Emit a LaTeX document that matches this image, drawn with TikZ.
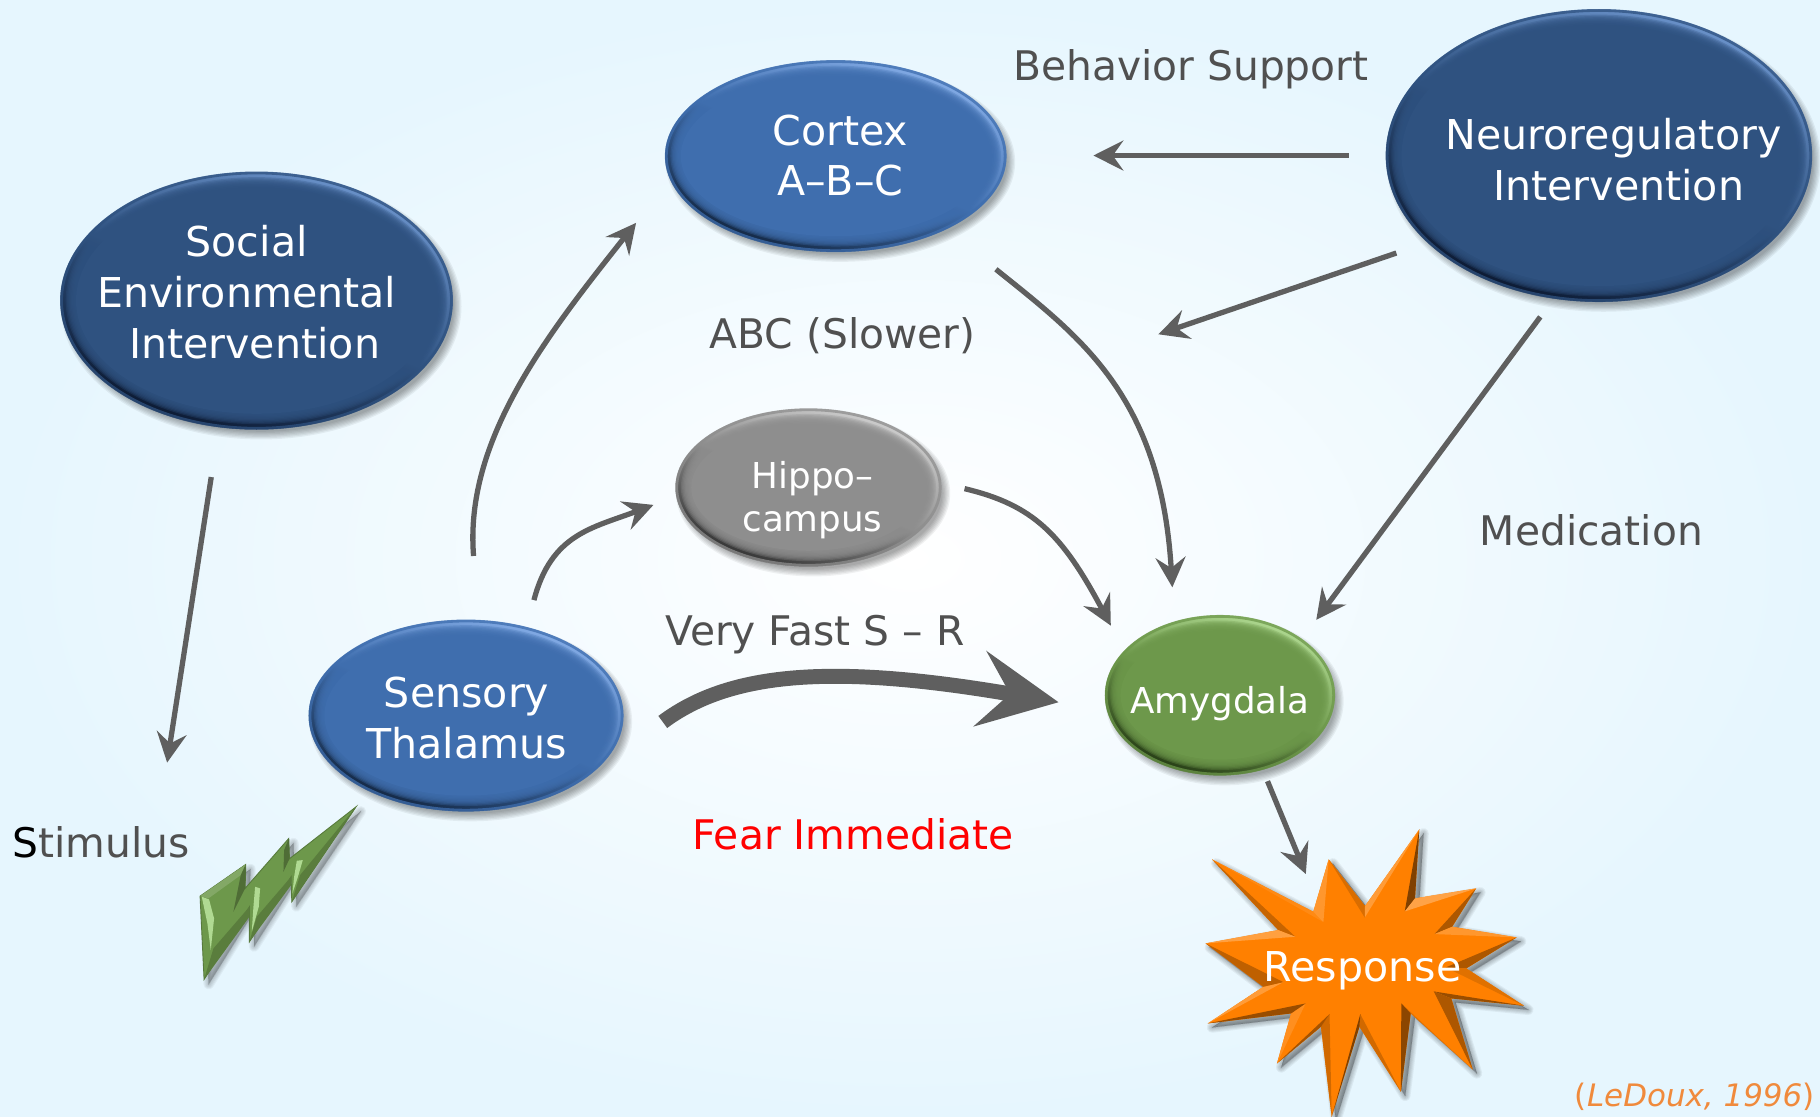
\documentclass[tikz,border=0pt]{standalone}
\usepackage{fontspec}
\setmainfont{DejaVu Sans}
\usetikzlibrary{arrows.meta,shapes.geometric,calc}
\definecolor{bgblue}{HTML}{E6F6FE}
\definecolor{arrowgray}{HTML}{5F5F5F}
\definecolor{labelgray}{HTML}{505050}
\definecolor{navybase}{HTML}{2F5280}
\definecolor{navylight}{HTML}{6C94CC}
\definecolor{navydark}{HTML}{0B1830}
\definecolor{bluebase}{HTML}{3F6EAE}
\definecolor{bluelight}{HTML}{86AEE8}
\definecolor{bluedark}{HTML}{12253F}
\definecolor{graybase}{HTML}{8E8E8E}
\definecolor{graylight}{HTML}{D0D0D0}
\definecolor{graydark}{HTML}{303030}
\definecolor{greenbase}{HTML}{6D984B}
\definecolor{greenlight}{HTML}{B0DA92}
\definecolor{greendark}{HTML}{243A14}
\definecolor{orangebase}{HTML}{FF8000}
\definecolor{citecolor}{HTML}{F08A3C}
\tikzset{
  arr/.style={-{Stealth[length=17pt,width=17pt,inset=6pt]},line width=3pt,draw=arrowgray},
  fastarr/.style={-{Stealth[length=45pt,width=43pt,inset=17pt]},line width=8.5pt,draw=arrowgray},
  big/.style={font=\fontsize{23.4}{29}\selectfont,align=center,text=white,inner sep=0pt},
  small/.style={font=\fontsize{20.3}{24.5}\selectfont,align=center,text=white,inner sep=0pt},
  lbl/.style={font=\fontsize{23.2}{29}\selectfont,text=labelgray,inner sep=0pt},
  starp/.style={insert path={(145,238)--(382,395)--(418,238)--(503,378)--(630,148)--(620,355)--(763,325)--(707,440)--(858,472)--(740,565)--(875,677)--(705,655)--(755,868)--(610,700)--(587,935)--(490,740)--(425,1010)--(400,740)--(297,850)--(330,700)--(135,730)--(265,620)--(130,490)--(300,450)--cycle}},
  boltp/.style={insert path={(600,408)--(737,313)--(735,385)--(866,235)--(868,296)--(1068,140)--(875,425)--(873,350)--(748,545)--(748,440)--(612,658)--cycle}}
}
% name, cx, cy, rx, ry, base, light, dark
\newcommand{\bevelnode}[8]{
  \foreach \k in {0,...,6}{
    \fill[black,opacity=.055] ({#2+4},{#3+5}) ellipse ({#4+\k*1.1-3} and {#5+\k*1.1-3});
  }
  \node[ellipse,inner sep=0pt,outer sep=0pt,minimum width={2*#4*0.6605pt},minimum height={2*#5*0.6605pt},
        top color=#7,bottom color=#8,middle color=#6,shading angle=-22] (#1) at (#2,#3) {};
  \draw[#6,line width=1.6pt,opacity=.75] (#2,#3) ellipse ({#4-1} and {#5-1});
  \foreach \k in {1,...,8}{
    \fill[#6,opacity=.3] (#2,#3) ellipse ({#4-3.5-\k*1.1} and {#5-3.5-\k*1.1});
  }
  \fill[#6] (#2,#3) ellipse ({#4-13.5} and {#5-13.5});
}
\newcommand{\facet}[3]{\fill[#3] (#1) -- (#2) -- ($(#2)!.2!(500,550)$) -- cycle;}
\begin{document}
\begin{tikzpicture}[x=0.02321429cm,y=-0.02321429cm]
\useasboundingbox (0,0) rectangle (1568,962.3);
\path[inner color=white,outer color=bgblue] (0,0) rectangle (1568,962.3);

% free ends of the connectors
\coordinate (a1s) at (182,411);   \coordinate (a1e) at (144,657);
\coordinate (a2s) at (408,479);   \coordinate (a2e) at (548,192);
\coordinate (a3s) at (460,517);   \coordinate (a3e) at (563,435);
\coordinate (a4s) at (571,622);   \coordinate (a4e) at (912,605);
\coordinate (a5s) at (831,421);   \coordinate (a5e) at (957,539);
\coordinate (a6s) at (858,232);   \coordinate (a6e) at (1010,506);
\coordinate (a7s) at (1162,134);  \coordinate (a7e) at (942,134);
\coordinate (a8s) at (1203,218);  \coordinate (a8e) at (998,288);
\coordinate (a9s) at (1327,273);  \coordinate (a9e) at (1134,534);
\coordinate (a10s) at (1092,673); \coordinate (a10e) at (1125,753);

% ovals
\bevelnode{socialshape}{221}{259}{169}{111}{navybase}{navylight}{navydark}
\bevelnode{cortexshape}{720}{134.5}{147}{82.5}{bluebase}{bluelight}{bluedark}
\bevelnode{neuroshape}{1377.5}{134}{183.5}{126}{navybase}{navylight}{navydark}
\bevelnode{hippshape}{696.5}{420}{114.5}{68}{graybase}{graylight}{graydark}
\bevelnode{thalshape}{401.5}{616.5}{135.5}{82.5}{bluebase}{bluelight}{bluedark}
\bevelnode{amygshape}{1051}{599}{99}{69}{greenbase}{greenlight}{greendark}

% response star
\begin{scope}[shift={(990.8,672)},x=0.008546cm,y=-0.006667cm]
  \foreach \k in {0,...,5}{
    \path[fill=black,draw=black,opacity=.05,line width={\k*1.2pt},line join=round,shift={(10,12)},starp];
  }
  \path[fill=orangebase,starp];
  \facet{145,238}{382,395}{orangebase!92!white}
  \facet{145,238}{300,450}{orangebase!78!black}
  \facet{418,238}{382,395}{orangebase!82!white}
  \facet{418,238}{503,378}{orangebase!85!black}
  \facet{630,148}{503,378}{orangebase!78!white}
  \facet{630,148}{620,355}{orangebase!50!black}
  \facet{763,325}{620,355}{orangebase!72!white}
  \facet{763,325}{707,440}{orangebase!68!black}
  \facet{858,472}{707,440}{orangebase!82!white}
  \facet{858,472}{740,565}{orangebase!68!black}
  \facet{875,677}{740,565}{orangebase!88!black}
  \facet{875,677}{705,655}{orangebase!60!black}
  \facet{755,868}{705,655}{orangebase!68!black}
  \facet{755,868}{610,700}{orangebase!88!black}
  \facet{587,935}{610,700}{orangebase!55!black}
  \facet{587,935}{490,740}{orangebase!82!black}
  \facet{425,1010}{490,740}{orangebase!50!black}
  \facet{425,1010}{400,740}{orangebase!82!black}
  \facet{297,850}{400,740}{orangebase!65!black}
  \facet{297,850}{330,700}{orangebase!88!white}
  \facet{135,730}{330,700}{orangebase!60!black}
  \facet{135,730}{265,620}{orangebase!78!white}
  \facet{130,490}{265,620}{orangebase!75!black}
  \facet{130,490}{300,450}{orangebase!75!white}
\end{scope}

% stimulus bolt
\begin{scope}[shift={(0,654.8)},x=0.006667cm,y=-0.006667cm]
  \foreach \k in {0,...,5}{
    \path[fill=black,draw=black,opacity=.045,line width={\k*1.2pt},line join=round,shift={(14,14)},boltp];
  }
  \path[fill=greenbase,draw=greenbase!80!black,line width=.5pt,boltp];
  \fill[greenbase!85!white] (600,408)--(737,313)--(722,345)--(625,415)--cycle;
  \fill[greenbase!72!black] (737,313)--(735,385)--(700,455)--(722,345)--cycle;
  \fill[greenbase!72!black] (866,235)--(868,296)--(850,335)--(852,270)--cycle;
  \fill[greenbase!82!black] (612,658)--(640,565)--(748,440)--(748,470)--cycle;
  \fill[greenbase!82!black] (748,545)--(770,470)--(873,350)--(873,375)--cycle;
  \fill[greenbase!82!black] (875,425)--(900,345)--(1068,140)--cycle;
  \fill[greenlight] (605,410)--(627,418)--(642,475)--(632,570)--(622,490)--cycle;
  \fill[greenlight] (765,380)--(780,385)--(776,440)--(755,515)--(760,440)--cycle;
  \fill[greenlight] (890,302)--(908,300)--(895,345)--(877,400)--(882,350)--cycle;
\end{scope}

% connectors
\draw[arr] (a1s) -- (a1e);
\draw[arr] (a2s) .. controls (400,380) and (470,290) .. (a2e);
\draw[arr] (a3s) .. controls (475,460) and (510,455) .. (a3e);
\draw[fastarr] (a4s) .. controls (630,578) and (720,572) .. (a4e);
\draw[arr] (a5s) .. controls (890,435) and (915,460) .. (a5e);
\draw[arr] (a6s) .. controls (930,290) and (1000,340) .. (a6e);
\draw[arr] (a7s) -- (a7e);
\draw[arr] (a8s) -- (a8e);
\draw[arr] (a9s) -- (a9e);
\draw[arr] (a10s) -- (a10e);

% texts in shapes
\node[big] (social) at (212.5,252) {Social\\Environmental\\\hspace*{9pt}Intervention};
\node[big] (cortex) at (724,134) {Cortex\\A--B--C};
\node[big] (neuro) at (1390,137.5) {Neuroregulatory\\\hspace*{6pt}Intervention};
\node[small] (hippo) at (700,431) {Hippo--\\campus};
\node[big] (thal) at (402,619) {Sensory\\Thalamus};
\node[small] (amyg) at (1051,606) {Amygdala};
\node[big,text=white] (resp) at (1174,836) {Response};

% free labels
\node[lbl] (behav) at (1026,60) {Behavior Support};
\node[lbl] (abc) at (726,289) {ABC (Slower)};
\node[lbl] (medic) at (1371,457) {Medication};
\node[lbl] (fast) at (702,547) {Very Fast S -- R};
\node[lbl,text=red] (fear) at (735,719) {Fear Immediate};
\node[lbl] (stim) at (87,725.5) {\textcolor{black}{S}timulus};
\node[inner sep=0pt,text=citecolor,font=\fontsize{17.6}{20}\selectfont] (cite) at (1460,945) {(\textit{LeDoux, 1996})};
\end{tikzpicture}
\end{document}
